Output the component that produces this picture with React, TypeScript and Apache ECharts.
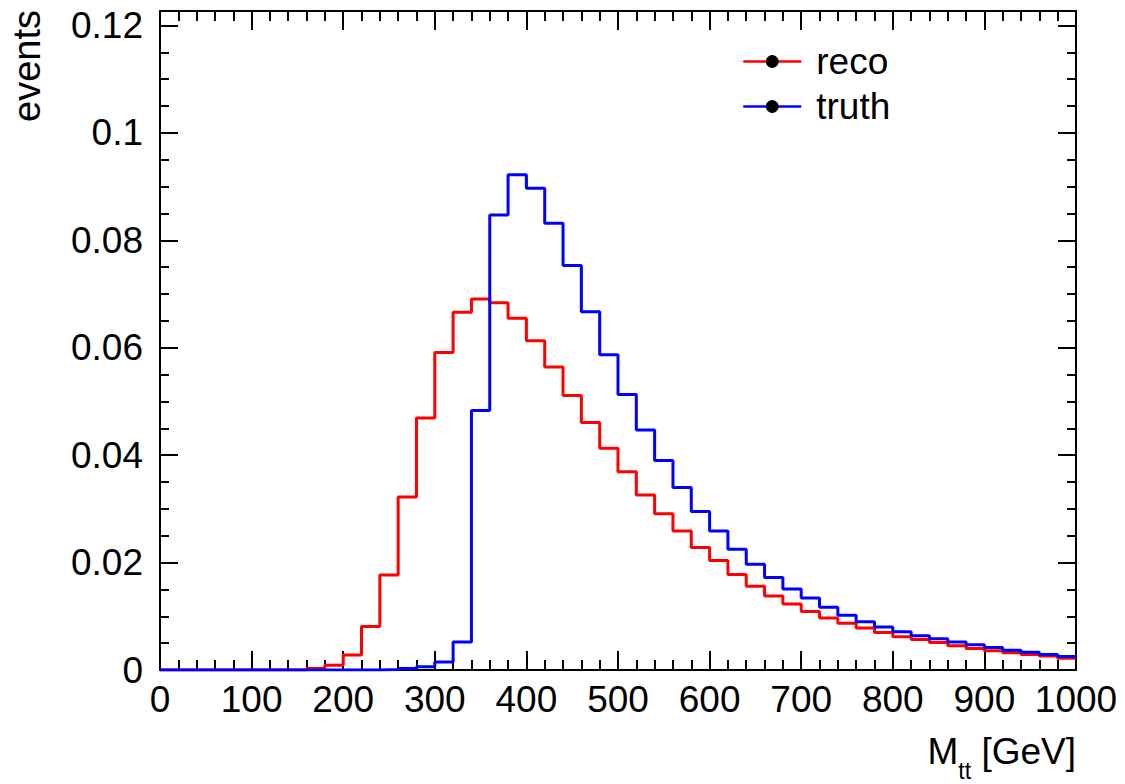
import React, { useEffect, useRef } from "react";
import * as echarts from "echarts";

// Histogram binning (GeV)
const binLow = 0;
const binWidth = 20;

// Bin contents, 50 bins from 0 to 1000 GeV
const recoValues = [
  0, 0, 0, 0, 0, 0, 0, 0, 0.0003, 0.0009,
  0.0028, 0.0081, 0.0177, 0.0322, 0.0469, 0.0591, 0.0666, 0.0691, 0.0684, 0.0655,
  0.0613, 0.0564, 0.0511, 0.0461, 0.0413, 0.0369, 0.0326, 0.0291, 0.0259, 0.0228,
  0.0204, 0.0178, 0.0156, 0.0138, 0.0123, 0.0109, 0.0097, 0.0087, 0.0078, 0.0070,
  0.0062, 0.0057, 0.0051, 0.0045, 0.0040, 0.0036, 0.0032, 0.0029, 0.0026, 0.0022,
];
const truthValues = [
  0, 0, 0, 0, 0, 0, 0, 0, 0, 0,
  0, 0, 0.0001, 0.0003, 0.0006, 0.0015, 0.0052, 0.0483, 0.0847, 0.0922,
  0.0897, 0.0832, 0.0753, 0.0667, 0.0587, 0.0513, 0.0447, 0.0390, 0.0340, 0.0295,
  0.0259, 0.0225, 0.0197, 0.0172, 0.0151, 0.0134, 0.0117, 0.0102, 0.0090, 0.0080,
  0.0071, 0.0064, 0.0058, 0.0052, 0.0047, 0.0042, 0.0037, 0.0033, 0.0029, 0.0025,
];

const seriesNames = ["reco", "truth"];
const seriesColors = ["#ff0000", "#0000ff"];

// Axis ranges
const xMin = 0;
const xMax = 1000;
const xMajor = 100;
const xMinorSplit = 5;
const yMin = 0;
const yMax = 0.1227;
const yMajor = 0.02;
const yMinor = 0.005;

const yTitle = "events";

const FONT = "'Liberation Sans', Arial, Helvetica, sans-serif";

function stepData(values: number[]) {
  const pts: number[][] = values.map((v, i) => [binLow + i * binWidth, v]);
  pts.push([binLow + values.length * binWidth, values[values.length - 1]]);
  return pts;
}

const black = "#000";
const frameLine = { color: black, width: 2 };

function xAxisDef(position: "bottom" | "top", showLabel: boolean) {
  return {
    type: "value",
    min: xMin,
    max: xMax,
    interval: xMajor,
    position,
    axisLine: { show: true, onZero: false, lineStyle: frameLine },
    axisTick: { show: true, inside: true, length: 19, lineStyle: { color: black, width: 2 } },
    minorTick: { show: true, splitNumber: xMinorSplit, length: 10, lineStyle: { color: black, width: 2 } },
    splitLine: { show: false },
    minorSplitLine: { show: false },
    axisLabel: {
      show: showLabel,
      fontSize: 37,
      color: black,
      fontFamily: FONT,
      margin: 11,
      formatter: (v: number) => String(v),
    },
  };
}

function yAxisDef(position: "left" | "right", interval: number, tickLen: number, showLine: boolean, showLabel: boolean) {
  return {
    type: "value",
    min: yMin,
    max: yMax,
    interval,
    position,
    axisLine: { show: showLine, onZero: false, lineStyle: frameLine },
    axisTick: { show: true, inside: true, length: tickLen, lineStyle: { color: black, width: 2 } },
    splitLine: { show: false },
    axisLabel: {
      show: showLabel,
      showMaxLabel: false,
      fontSize: 37,
      color: black,
      fontFamily: FONT,
      margin: 17,
      formatter: (v: number) => String(Math.round(v * 1000) / 1000),
    },
  };
}

export default function App() {
  const ref = useRef<HTMLDivElement>(null);

  useEffect(() => {
    if (!ref.current) return;
    const chart = echarts.init(ref.current, null, { renderer: "svg" });
    const option: any = {
      animation: false,
      backgroundColor: "#fff",
      grid: { left: 160, right: 49, top: 11, bottom: 114, containLabel: false },
      xAxis: [xAxisDef("bottom", true), xAxisDef("top", false)],
      yAxis: [
        yAxisDef("left", yMajor, 18, true, true),
        yAxisDef("left", yMinor, 9, false, false),
        yAxisDef("right", yMajor, 18, true, false),
        yAxisDef("right", yMinor, 9, false, false),
      ],
      legend: {
        orient: "vertical",
        left: 737,
        top: 38,
        itemWidth: 58,
        itemHeight: 16,
        itemGap: 8,
        textStyle: { fontSize: 37, color: black, fontFamily: FONT, lineHeight: 37, padding: [0, 0, 0, 10] },
        data: seriesNames.map((n, i) => ({
          name: n,
          itemStyle: { color: black, borderWidth: 0 },
          lineStyle: { color: seriesColors[i], width: 2.5 },
        })),
      },
      graphic: [
        {
          type: "text",
          x: 27,
          y: 10,
          rotation: Math.PI / 2,
          style: { text: yTitle, font: `38px ${FONT}`, fill: black, align: "right", verticalAlign: "middle" },
        },
        {
          type: "text",
          x: 1076,
          y: 733,
          style: {
            text: "{m|M}{s|tt}{m| [GeV]}",
            align: "right",
            verticalAlign: "top",
            fill: black,
            rich: {
              m: { fontSize: 37, fontFamily: FONT, lineHeight: 40, verticalAlign: "top", fill: black },
              s: { fontSize: 23, fontFamily: FONT, lineHeight: 23, padding: [26, 0, 0, 0], verticalAlign: "top", fill: black },
            },
          },
        },
      ],
      series: [recoValues, truthValues].map((vals, i) => ({
        name: seriesNames[i],
        type: "line",
        step: "end",
        xAxisIndex: 0,
        yAxisIndex: 0,
        data: stepData(vals),
        showSymbol: false,
        symbol: "circle",
        lineStyle: { color: seriesColors[i], width: 3 },
        itemStyle: { color: seriesColors[i] },
        clip: true,
      })),
    };
    chart.setOption(option);
    return () => chart.dispose();
  }, []);

  return (
    <div
      ref={ref}
      style={{ position: "fixed", left: 0, top: 0, width: 1125, height: 784, background: "#fff" }}
    />
  );
}
